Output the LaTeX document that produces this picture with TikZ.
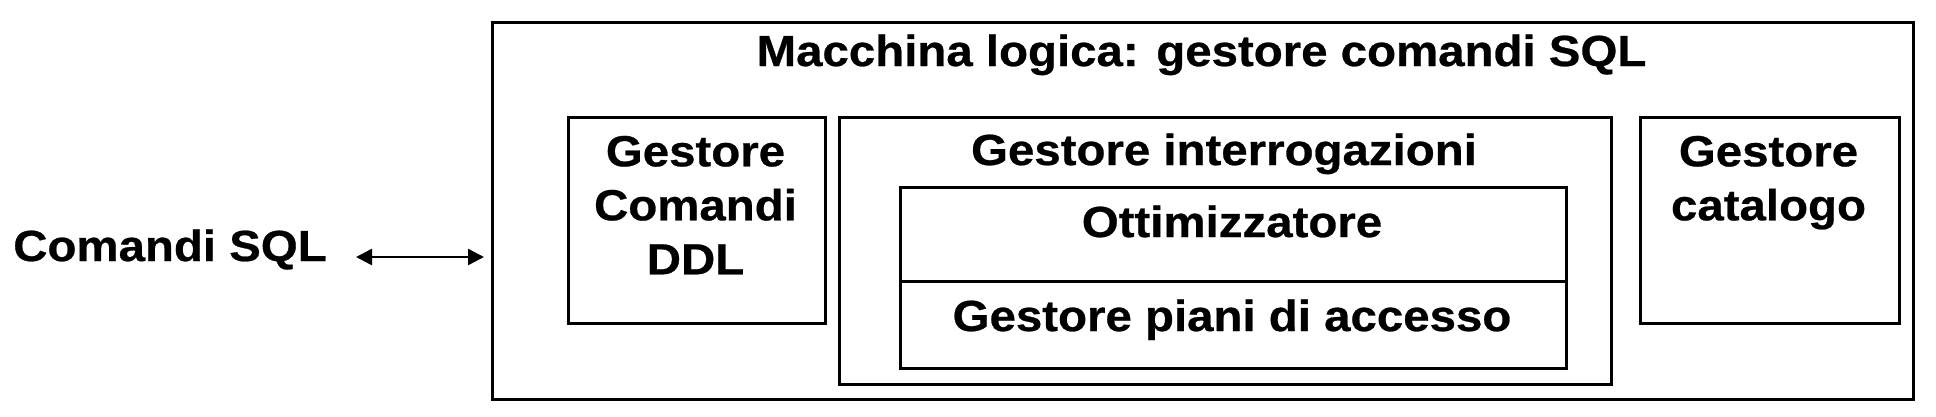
\documentclass[tikz,border=0pt]{standalone}
\usepackage{fontspec}
\setmainfont{Liberation Sans}[FakeStretch=1.09,FakeBold=0.6]
\usetikzlibrary{arrows.meta}
\begin{document}
\begin{tikzpicture}[x=1pt,y=-1pt,
  box/.style={draw,line width=2.5pt,inner sep=0pt,anchor=north west},
  lab/.style={font=\fontsize{43.5}{54}\selectfont\bfseries,inner sep=0pt,align=center},
  arr/.style={line width=2.5pt,{Triangle[length=16pt,width=16pt]}-{Triangle[length=16pt,width=16pt]}}]
\useasboundingbox (0,0) rectangle (1936,416);
% boxes
\node[box,minimum width=1421pt,minimum height=377pt] (outer) at (491,21) {};
\node[box,minimum width=257pt,minimum height=206pt] (ddl) at (567,116) {};
\node[box,minimum width=772pt,minimum height=267pt] (interr) at (838,116) {};
\node[box,minimum width=666pt,minimum height=94pt] (ott) at (899,186) {};
\node[box,minimum width=666pt,minimum height=87pt] (piani) at (899,280) {};
\node[box,minimum width=259pt,minimum height=206pt] (cat) at (1639,116) {};
% texts
\node[lab,anchor=base] (title) at (1201.5,66) {Macchina logica: gestore comandi SQL};
\node[lab,anchor=base] (tinterr) at (1224,165) {Gestore interrogazioni};
\node[lab,anchor=base] (tott) at (1232,237) {Ottimizzatore};
\node[lab,anchor=base] (tpiani) at (1232,331) {Gestore piani di accesso};
\node[lab,anchor=north] (tddl) at (695.5,135.7) {Gestore\\Comandi\\DDL};
\node[lab,anchor=north] (tcat) at (1768.5,135.7) {Gestore\\catalogo};
\node[lab,anchor=base] (cmd) at (170,261) {Comandi SQL};
% arrow
\coordinate (a1) at (356,257);
\coordinate (a2) at (484,257);
\draw[arr] (a1) -- (a2);
\end{tikzpicture}
\end{document}
